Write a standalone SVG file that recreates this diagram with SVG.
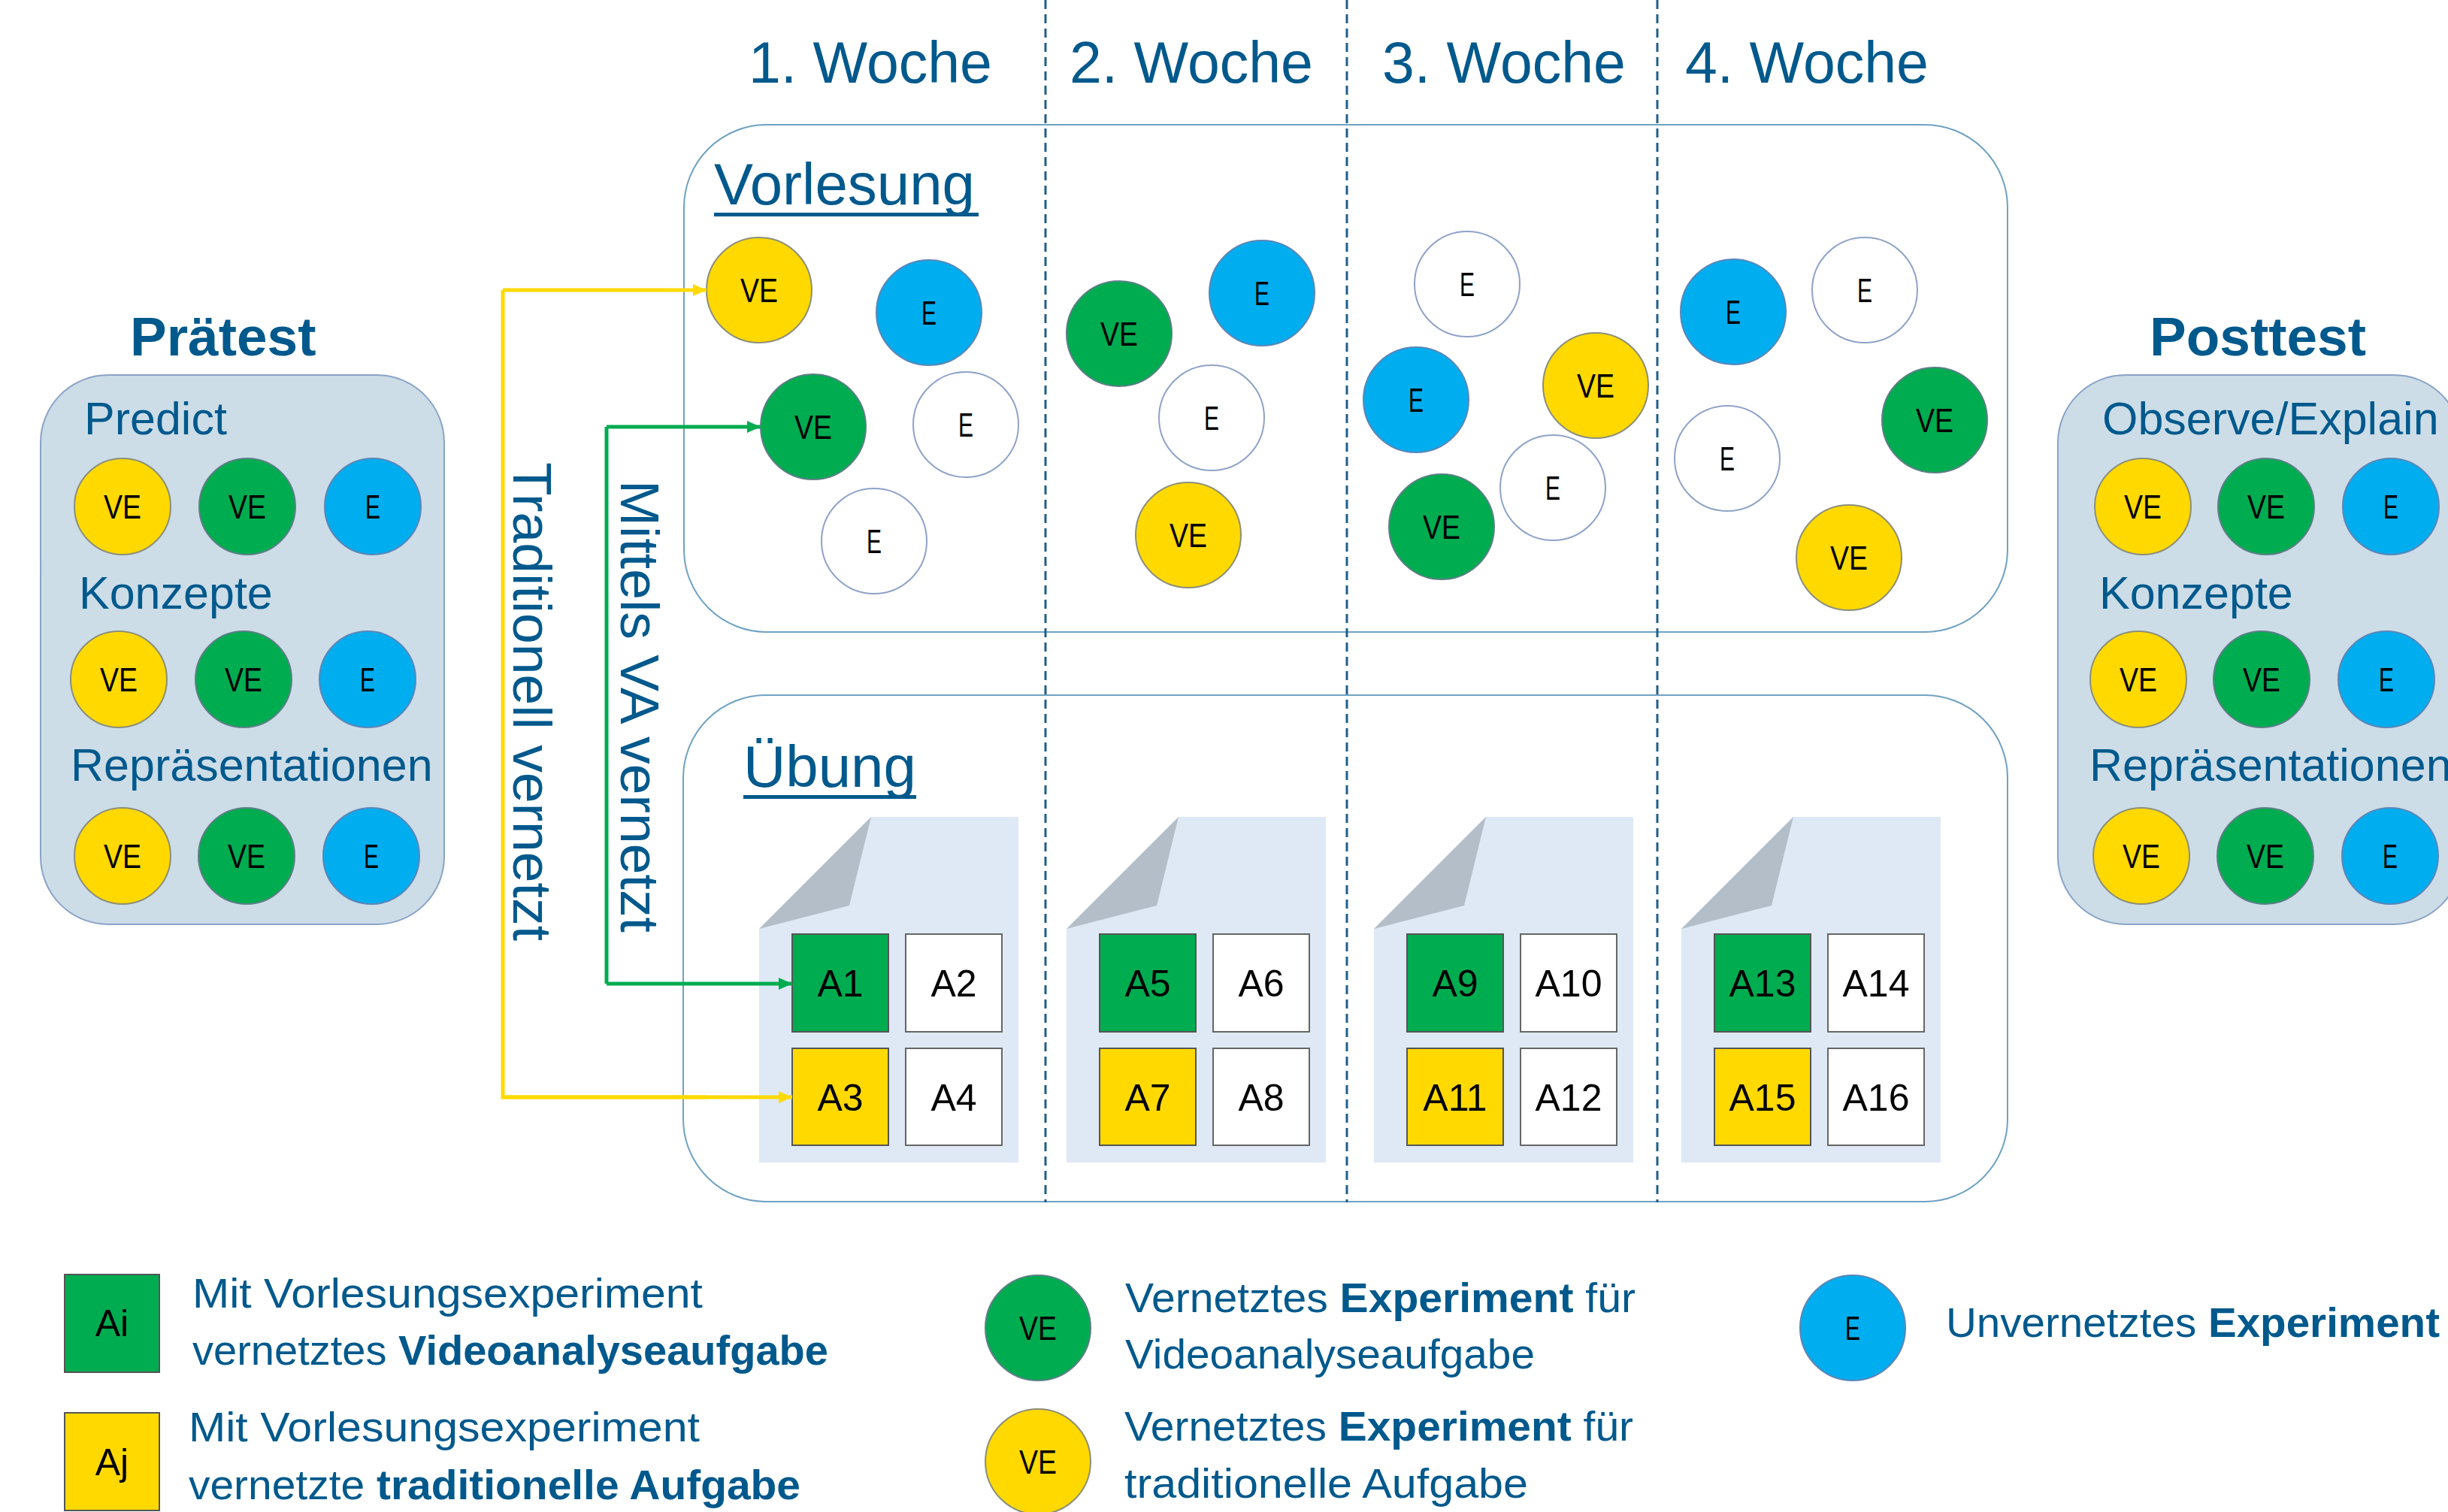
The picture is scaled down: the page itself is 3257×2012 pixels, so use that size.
<svg xmlns="http://www.w3.org/2000/svg" width="3257" height="2012" viewBox="0 0 3257 2012">
<defs>
<style>
text{font-family:"Liberation Sans",Arial,sans-serif;}
.ttl{font-size:73px;font-weight:bold;fill:#00598C;}
.sub{font-size:61px;fill:#00598C;}
.wk{font-size:77px;fill:#00598C;}
.sec{font-size:78px;fill:#00598C;}
.vt{font-size:73px;fill:#00598C;}
.leg{font-size:56px;fill:#00598C;}
.b{font-weight:bold;}
.ct{font-size:44px;fill:#000;text-anchor:middle;}
.sq{font-size:50px;fill:#000;text-anchor:middle;}
.cy{fill:#FFD900;stroke:#8C8F7A;stroke-width:2;}
.cg{fill:#00AC50;stroke:#5D7F86;stroke-width:2;}
.cb{fill:#00AEEF;stroke:#5B86B8;stroke-width:2;}
.cw{fill:#FFFFFF;stroke:#8FA3C8;stroke-width:2;}
.testbox{fill:#CCDDE8;stroke:#8AA3C6;stroke-width:2;}
.phase{fill:#FFFFFF;stroke:#6FA2C2;stroke-width:2;}
.doc{fill:#DEE9F5;}
.fold{fill:#B4BEC9;}
.sg{fill:#00AC50;stroke:#555;stroke-width:2;}
.sy{fill:#FFD900;stroke:#555;stroke-width:2;}
.sw{fill:#FFFFFF;stroke:#666;stroke-width:2;}
.dash{stroke:#1F5F8B;stroke-width:3;stroke-dasharray:12 7;fill:none;}
</style>
<marker id="ay" markerUnits="userSpaceOnUse" markerWidth="20" markerHeight="20" refX="18" refY="10" orient="auto"><path d="M0,2 L18,10 L0,18 z" fill="#FFD900"/></marker>
<marker id="ag" markerUnits="userSpaceOnUse" markerWidth="20" markerHeight="20" refX="18" refY="10" orient="auto"><path d="M0,2 L18,10 L0,18 z" fill="#00AC50"/></marker>
</defs>
<rect width="3257" height="2012" fill="#FFFFFF"/>

<g id="vorlesung">
<rect class="phase" x="910" y="166" width="1761" height="675" rx="110" ry="110"/>
<text class="sec" x="950" y="272">Vorlesung</text>
<rect x="950" y="283" width="352" height="5" fill="#00598C"/>
</g>
<g id="uebung">
<rect class="phase" x="909" y="925" width="1762" height="674" rx="110" ry="110"/>
<text class="sec" x="989" y="1047">Übung</text>
<rect x="989" y="1058" width="230" height="5" fill="#00598C"/>
</g>

<g id="weeks">
<text class="wk" x="996" y="110">1. Woche</text>
<text class="wk" x="1423" y="110">2. Woche</text>
<text class="wk" x="1839" y="110">3. Woche</text>
<text class="wk" x="2242" y="110">4. Woche</text>
<line class="dash" x1="1391" y1="0" x2="1391" y2="1600"/>
<line class="dash" x1="1792" y1="0" x2="1792" y2="1600"/>
<line class="dash" x1="2205" y1="0" x2="2205" y2="1600"/>
</g>

<g id="pretest">
<text class="ttl" x="173" y="473">Prätest</text>
<rect class="testbox" x="54" y="499" width="537" height="731" rx="90" ry="90"/>
<text class="sub" x="112" y="578">Predict</text>
<circle class="cy" cx="163" cy="674" r="64"/><text class="ct" x="163" y="690" textLength="50" lengthAdjust="spacingAndGlyphs">VE</text>
<circle class="cg" cx="329" cy="674" r="64"/><text class="ct" x="329" y="690" textLength="50" lengthAdjust="spacingAndGlyphs">VE</text>
<circle class="cb" cx="496" cy="674" r="64"/><text class="ct" x="496" y="690" textLength="20" lengthAdjust="spacingAndGlyphs">E</text>
<text class="sub" x="105" y="810">Konzepte</text>
<circle class="cy" cx="158" cy="904" r="64"/><text class="ct" x="158" y="920" textLength="50" lengthAdjust="spacingAndGlyphs">VE</text>
<circle class="cg" cx="324" cy="904" r="64"/><text class="ct" x="324" y="920" textLength="50" lengthAdjust="spacingAndGlyphs">VE</text>
<circle class="cb" cx="489" cy="904" r="64"/><text class="ct" x="489" y="920" textLength="20" lengthAdjust="spacingAndGlyphs">E</text>
<text class="sub" x="94" y="1039">Repräsentationen</text>
<circle class="cy" cx="163" cy="1139" r="64"/><text class="ct" x="163" y="1155" textLength="50" lengthAdjust="spacingAndGlyphs">VE</text>
<circle class="cg" cx="328" cy="1139" r="64"/><text class="ct" x="328" y="1155" textLength="50" lengthAdjust="spacingAndGlyphs">VE</text>
<circle class="cb" cx="494" cy="1139" r="64"/><text class="ct" x="494" y="1155" textLength="20" lengthAdjust="spacingAndGlyphs">E</text>
</g>

<g id="posttest">
<text class="ttl" x="2860" y="473">Posttest</text>
<rect class="testbox" x="2738" y="499" width="537" height="731" rx="90" ry="90"/>
<text class="sub" x="2797" y="578">Observe/Explain</text>
<circle class="cy" cx="2851" cy="674" r="64"/><text class="ct" x="2851" y="690" textLength="50" lengthAdjust="spacingAndGlyphs">VE</text>
<circle class="cg" cx="3015" cy="674" r="64"/><text class="ct" x="3015" y="690" textLength="50" lengthAdjust="spacingAndGlyphs">VE</text>
<circle class="cb" cx="3181" cy="674" r="64"/><text class="ct" x="3181" y="690" textLength="20" lengthAdjust="spacingAndGlyphs">E</text>
<text class="sub" x="2793" y="810">Konzepte</text>
<circle class="cy" cx="2845" cy="904" r="64"/><text class="ct" x="2845" y="920" textLength="50" lengthAdjust="spacingAndGlyphs">VE</text>
<circle class="cg" cx="3009" cy="904" r="64"/><text class="ct" x="3009" y="920" textLength="50" lengthAdjust="spacingAndGlyphs">VE</text>
<circle class="cb" cx="3175" cy="904" r="64"/><text class="ct" x="3175" y="920" textLength="20" lengthAdjust="spacingAndGlyphs">E</text>
<text class="sub" x="2780" y="1039">Repräsentationen</text>
<circle class="cy" cx="2849" cy="1139" r="64"/><text class="ct" x="2849" y="1155" textLength="50" lengthAdjust="spacingAndGlyphs">VE</text>
<circle class="cg" cx="3014" cy="1139" r="64"/><text class="ct" x="3014" y="1155" textLength="50" lengthAdjust="spacingAndGlyphs">VE</text>
<circle class="cb" cx="3180" cy="1139" r="64"/><text class="ct" x="3180" y="1155" textLength="20" lengthAdjust="spacingAndGlyphs">E</text>
</g>

<g id="w1-experiments">
<circle class="cy" cx="1010" cy="386" r="70"/><text class="ct" x="1010" y="402" textLength="50" lengthAdjust="spacingAndGlyphs">VE</text>
<circle class="cb" cx="1236" cy="416" r="70"/><text class="ct" x="1236" y="432" textLength="20" lengthAdjust="spacingAndGlyphs">E</text>
<circle class="cg" cx="1082" cy="568" r="70"/><text class="ct" x="1082" y="584" textLength="50" lengthAdjust="spacingAndGlyphs">VE</text>
<circle class="cw" cx="1285" cy="565" r="70"/><text class="ct" x="1285" y="581" textLength="20" lengthAdjust="spacingAndGlyphs">E</text>
<circle class="cw" cx="1163" cy="720" r="70"/><text class="ct" x="1163" y="736" textLength="20" lengthAdjust="spacingAndGlyphs">E</text>
</g>
<g id="w2-experiments">
<circle class="cg" cx="1489" cy="444" r="70"/><text class="ct" x="1489" y="460" textLength="50" lengthAdjust="spacingAndGlyphs">VE</text>
<circle class="cb" cx="1679" cy="390" r="70"/><text class="ct" x="1679" y="406" textLength="20" lengthAdjust="spacingAndGlyphs">E</text>
<circle class="cw" cx="1612" cy="556" r="70"/><text class="ct" x="1612" y="572" textLength="20" lengthAdjust="spacingAndGlyphs">E</text>
<circle class="cy" cx="1581" cy="712" r="70"/><text class="ct" x="1581" y="728" textLength="50" lengthAdjust="spacingAndGlyphs">VE</text>
</g>
<g id="w3-experiments">
<circle class="cw" cx="1952" cy="378" r="70"/><text class="ct" x="1952" y="394" textLength="20" lengthAdjust="spacingAndGlyphs">E</text>
<circle class="cb" cx="1884" cy="532" r="70"/><text class="ct" x="1884" y="548" textLength="20" lengthAdjust="spacingAndGlyphs">E</text>
<circle class="cy" cx="2123" cy="513" r="70"/><text class="ct" x="2123" y="529" textLength="50" lengthAdjust="spacingAndGlyphs">VE</text>
<circle class="cw" cx="2066" cy="649" r="70"/><text class="ct" x="2066" y="665" textLength="20" lengthAdjust="spacingAndGlyphs">E</text>
<circle class="cg" cx="1918" cy="701" r="70"/><text class="ct" x="1918" y="717" textLength="50" lengthAdjust="spacingAndGlyphs">VE</text>
</g>
<g id="w4-experiments">
<circle class="cb" cx="2306" cy="415" r="70"/><text class="ct" x="2306" y="431" textLength="20" lengthAdjust="spacingAndGlyphs">E</text>
<circle class="cw" cx="2481" cy="386" r="70"/><text class="ct" x="2481" y="402" textLength="20" lengthAdjust="spacingAndGlyphs">E</text>
<circle class="cg" cx="2574" cy="559" r="70"/><text class="ct" x="2574" y="575" textLength="50" lengthAdjust="spacingAndGlyphs">VE</text>
<circle class="cw" cx="2298" cy="610" r="70"/><text class="ct" x="2298" y="626" textLength="20" lengthAdjust="spacingAndGlyphs">E</text>
<circle class="cy" cx="2460" cy="742" r="70"/><text class="ct" x="2460" y="758" textLength="50" lengthAdjust="spacingAndGlyphs">VE</text>
</g>

<g id="w1-tasks">
<path class="doc" d="M1159,1087 H1355 V1547 H1010 V1236 Z"/>
<path class="fold" d="M1010,1236 L1159,1087 L1130,1205 Z"/>
<rect class="sg" x="1054" y="1243" width="128" height="130"/><text class="sq" x="1118" y="1326">A1</text>
<rect class="sw" x="1205" y="1243" width="128" height="130"/><text class="sq" x="1269" y="1326">A2</text>
<rect class="sy" x="1054" y="1395" width="128" height="129"/><text class="sq" x="1118" y="1478">A3</text>
<rect class="sw" x="1205" y="1395" width="128" height="129"/><text class="sq" x="1269" y="1478">A4</text>
</g>
<g id="w2-tasks">
<path class="doc" d="M1568,1087 H1764 V1547 H1419 V1236 Z"/>
<path class="fold" d="M1419,1236 L1568,1087 L1539,1205 Z"/>
<rect class="sg" x="1463" y="1243" width="128" height="130"/><text class="sq" x="1527" y="1326">A5</text>
<rect class="sw" x="1614" y="1243" width="128" height="130"/><text class="sq" x="1678" y="1326">A6</text>
<rect class="sy" x="1463" y="1395" width="128" height="129"/><text class="sq" x="1527" y="1478">A7</text>
<rect class="sw" x="1614" y="1395" width="128" height="129"/><text class="sq" x="1678" y="1478">A8</text>
</g>
<g id="w3-tasks">
<path class="doc" d="M1977,1087 H2173 V1547 H1828 V1236 Z"/>
<path class="fold" d="M1828,1236 L1977,1087 L1948,1205 Z"/>
<rect class="sg" x="1872" y="1243" width="128" height="130"/><text class="sq" x="1936" y="1326">A9</text>
<rect class="sw" x="2023" y="1243" width="128" height="130"/><text class="sq" x="2087" y="1326">A10</text>
<rect class="sy" x="1872" y="1395" width="128" height="129"/><text class="sq" x="1936" y="1478">A11</text>
<rect class="sw" x="2023" y="1395" width="128" height="129"/><text class="sq" x="2087" y="1478">A12</text>
</g>
<g id="w4-tasks">
<path class="doc" d="M2386,1087 H2582 V1547 H2237 V1236 Z"/>
<path class="fold" d="M2237,1236 L2386,1087 L2357,1205 Z"/>
<rect class="sg" x="2281" y="1243" width="128" height="130"/><text class="sq" x="2345" y="1326">A13</text>
<rect class="sw" x="2432" y="1243" width="128" height="130"/><text class="sq" x="2496" y="1326">A14</text>
<rect class="sy" x="2281" y="1395" width="128" height="129"/><text class="sq" x="2345" y="1478">A15</text>
<rect class="sw" x="2432" y="1395" width="128" height="129"/><text class="sq" x="2496" y="1478">A16</text>
</g>

<g id="connectors" fill="none" stroke-width="5">
<path d="M669,386 H940" stroke="#FFD900" marker-end="url(#ay)"/>
<path d="M940,1460 H669 V386" stroke="#FFD900"/>
<path d="M669,1460 H1054" stroke="#FFD900" marker-end="url(#ay)"/>
<path d="M807,568 H1012" stroke="#00AC50" marker-end="url(#ag)"/>
<path d="M807,568 V1309" stroke="#00AC50"/>
<path d="M807,1309 H1054" stroke="#00AC50" marker-end="url(#ag)"/>
<text class="vt" transform="translate(683,615) rotate(90)" textLength="637" lengthAdjust="spacingAndGlyphs">Traditionell vernetzt</text>
<text class="vt" transform="translate(826,639) rotate(90)" textLength="602" lengthAdjust="spacingAndGlyphs">Mittels VA vernetzt</text>
</g>

<g id="legend-green-task">
<rect class="sg" x="86" y="1696" width="126" height="130"/><text class="sq" x="149" y="1778">Ai</text>
<text class="leg" x="256" y="1740" textLength="679" lengthAdjust="spacingAndGlyphs">Mit Vorlesungsexperiment</text>
<text class="leg" x="256" y="1816" textLength="846" lengthAdjust="spacingAndGlyphs">vernetztes <tspan class="b">Videoanalyseaufgabe</tspan></text>
</g>
<g id="legend-yellow-task">
<rect class="sy" x="86" y="1880" width="126" height="130"/><text class="sq" x="149" y="1963">Aj</text>
<text class="leg" x="251" y="1918" textLength="680" lengthAdjust="spacingAndGlyphs">Mit Vorlesungsexperiment</text>
<text class="leg" x="251" y="1995" textLength="814" lengthAdjust="spacingAndGlyphs">vernetzte <tspan class="b">traditionelle Aufgabe</tspan></text>
</g>
<g id="legend-green-exp">
<circle class="cg" cx="1381" cy="1767" r="70"/><text class="ct" x="1381" y="1783" textLength="50" lengthAdjust="spacingAndGlyphs">VE</text>
<text class="leg" x="1497" y="1746" textLength="679" lengthAdjust="spacingAndGlyphs">Vernetztes <tspan class="b">Experiment</tspan> für</text>
<text class="leg" x="1497" y="1821" textLength="545" lengthAdjust="spacingAndGlyphs">Videoanalyseaufgabe</text>
</g>
<g id="legend-yellow-exp">
<circle class="cy" cx="1381" cy="1945" r="70"/><text class="ct" x="1381" y="1961" textLength="50" lengthAdjust="spacingAndGlyphs">VE</text>
<text class="leg" x="1496" y="1917" textLength="677" lengthAdjust="spacingAndGlyphs">Vernetztes <tspan class="b">Experiment</tspan> für</text>
<text class="leg" x="1496" y="1993" textLength="537" lengthAdjust="spacingAndGlyphs">traditionelle Aufgabe</text>
</g>
<g id="legend-blue-exp">
<circle class="cb" cx="2465" cy="1767" r="70"/><text class="ct" x="2465" y="1783" textLength="20" lengthAdjust="spacingAndGlyphs">E</text>
<text class="leg" x="2589" y="1779" textLength="657" lengthAdjust="spacingAndGlyphs">Unvernetztes <tspan class="b">Experiment</tspan></text>
</g>
</svg>
